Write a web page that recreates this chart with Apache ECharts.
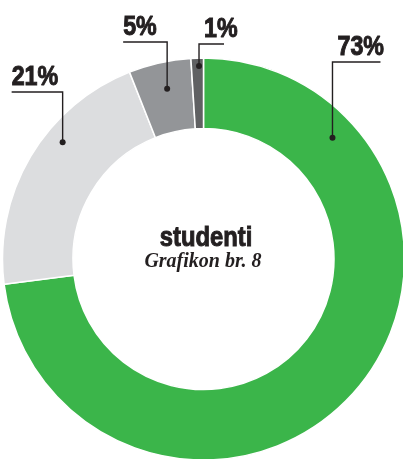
<!DOCTYPE html>
<html><head><meta charset="utf-8">
<script src="https://cdn.jsdelivr.net/npm/echarts@6/dist/echarts.min.js"></script>
<style>html,body{margin:0;padding:0;background:#fff}#c{width:403px;height:459px}</style>
</head><body><div id="c"></div>
<script>
// ---- data ----
const categories = ['Kategorija 1', 'Kategorija 2', 'Kategorija 3', 'Kategorija 4'];
const values = [73, 21, 5, 1];
const valueLabels = ['73%', '21%', '5%', '1%'];
const title = 'studenti';
const subtitle = 'Grafikon br. 8';

// ---- styles / layout ----
const colors = ['#3bb54a', '#dcdddf', '#939598', '#606163'];
const CX = 203.5, CY = 259, R_IN = 130.5, R_OUT = 201;
const INK = '#231f20';
const LABEL_FONT = 'bold 27px "Liberation Sans", Arial, sans-serif';
const NARROW = 0.86;
// callout anchor: fraction along slice, radius, y of underline, side, underline length
const callouts = [
  {frac: 0.178, r: 177, lineY: 62, side: 1, len: 48},
  {frac: 0.62, r: 183, lineY: 92, side: -1, len: 51},
  {frac: 0.53, r: 174, lineY: 42, side: -1, len: 44},
  {frac: 0.63, r: 193, lineY: 44, side: 1, len: 25}
];

const chart = echarts.init(document.getElementById('c'), null, {renderer: 'canvas'});

const total = values.reduce((a, b) => a + b, 0);
const graphics = [];
let acc = 0;
values.forEach((v, i) => {
  const span = v / total * 360;
  const c = callouts[i];
  const th = (acc + span * c.frac) * Math.PI / 180;
  acc += span;
  const dx = CX + c.r * Math.sin(th);
  const dy = CY - c.r * Math.cos(th);
  const ex = dx + c.side * c.len;
  graphics.push({
    type: 'polyline', z: 10,
    shape: {points: [[dx, dy], [dx, c.lineY], [ex, c.lineY]]},
    style: {stroke: INK, lineWidth: 1.4, fill: null}
  });
  graphics.push({
    type: 'circle', z: 11,
    shape: {cx: dx, cy: dy, r: 3},
    style: {fill: INK}
  });
  const tx = c.side > 0 ? dx + 5 : ex;
  graphics.push({
    type: 'text', z: 12, x: tx, y: c.lineY - 1, scaleX: NARROW,
    style: {text: valueLabels[i], font: LABEL_FONT, fill: INK, stroke: INK, lineWidth: 1, align: 'left', verticalAlign: 'bottom'}
  });
});
graphics.push({
  type: 'text', z: 12, x: 206, y: 252, scaleX: 0.85,
  style: {text: title, font: 'bold 28px "Liberation Sans", Arial, sans-serif', fill: INK, stroke: INK, lineWidth: 1, align: 'center', verticalAlign: 'bottom'}
});
graphics.push({
  type: 'text', z: 12, x: 203, y: 272,
  style: {text: subtitle, font: 'italic bold 20px "Liberation Serif", "DejaVu Serif", serif', fill: INK, align: 'center', verticalAlign: 'bottom'}
});

chart.setOption({
  animation: false,
  backgroundColor: '#ffffff',
  series: [{
    type: 'pie',
    center: [CX, CY],
    radius: [R_IN, R_OUT],
    startAngle: 90,
    clockwise: true,
    avoidLabelOverlap: false,
    label: {show: false},
    labelLine: {show: false},
    itemStyle: {borderColor: '#ffffff', borderWidth: 1.5},
    emphasis: {disabled: true},
    data: categories.map((name, i) => ({name, value: values[i], itemStyle: {color: colors[i]}}))
  }],
  graphic: graphics
});
</script>
</body></html>
